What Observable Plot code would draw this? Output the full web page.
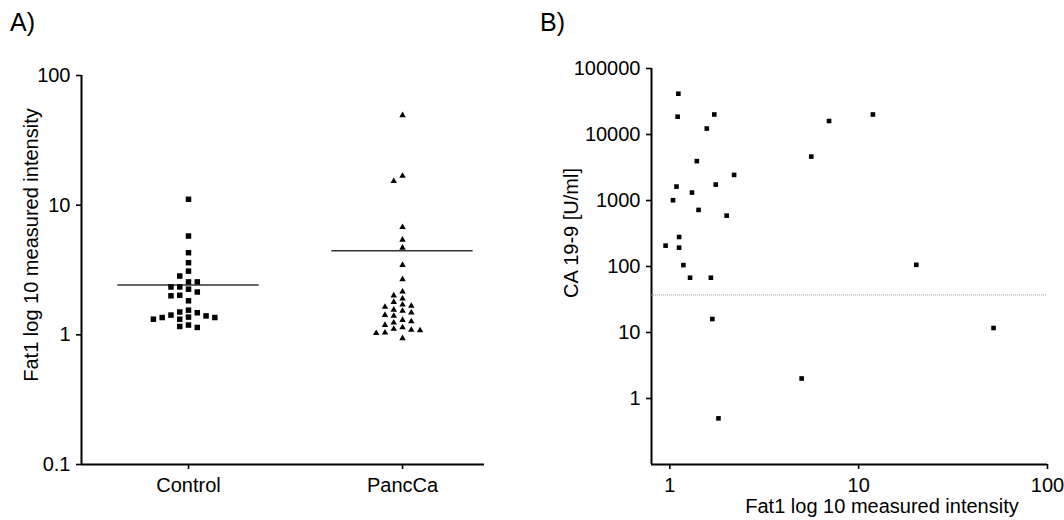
<!DOCTYPE html>
<html><head><meta charset="utf-8">
<script src="https://cdn.jsdelivr.net/npm/d3@7"></script>
<script src="https://cdn.jsdelivr.net/npm/@observablehq/plot@0.6"></script>
<style>
body{margin:0;background:#fff;font-family:Arial,"Liberation Sans",sans-serif;}
#wrap{position:relative;width:1064px;height:520px;overflow:hidden;background:#fff;}
.lab{position:absolute;font-size:20px;color:#000;white-space:nowrap;line-height:1;}
.panel{position:absolute;top:0;}
.rot{transform:translate(-50%,-50%) rotate(-90deg);}
</style></head><body>
<div id="wrap">
  <div id="pa" class="panel" style="left:0"></div>
  <div id="pb" class="panel" style="left:532px"></div>
  <div class="lab" style="left:10px;top:10px;font-size:25px">A)</div>
  <div class="lab" style="left:540px;top:10px;font-size:25px">B)</div>
  <div class="lab rot" style="left:31px;top:245px">Fat1 log 10 measured intensity</div>
  <div class="lab rot" style="left:571px;top:233px">CA 19-9 [U/ml]</div>
  <div class="lab" style="left:882px;top:496px;transform:translateX(-50%)">Fat1 log 10 measured intensity</div>
</div>
<script>
// ---- Panel A data ----
const groups = ["Control", "PancCa"];
const controlValues = [11.1, 5.78, 4.3, 3.6, 3.1, 2.84, 2.56, 2.56, 2.34, 2.34, 2.25, 2.02, 2.0, 2.14,
  1.83, 1.55, 1.48, 1.40, 1.32, 1.36, 1.36, 1.37, 1.42, 1.32, 1.50, 1.19, 1.14, 1.16];
const panccaValues = [49.3, 16.8, 15.3, 6.77, 5.41, 4.69, 3.45, 2.68, 2.15, 1.90, 2.01, 1.79, 1.67, 1.56,
  1.53, 1.64, 1.71, 1.42, 1.40, 1.48, 1.30, 1.24, 1.19, 1.27, 1.09, 1.14, 1.04, 1.11, 1.03, 1.08, 0.94];
const groupMeans = [2.42, 4.45];
const yTicksA = [0.1, 1, 10, 100];

// ---- Panel B data ----
const fat1Values = [1.11, 1.10, 1.72, 1.57, 6.97, 5.61, 1.39, 2.19, 1.085, 1.75, 1.31, 1.04, 1.42, 2.0,
  1.12, 0.95, 1.12, 1.18, 1.28, 1.65, 1.68, 4.99, 1.81, 11.9, 20.2, 51.8];
const ca199Values = [41500, 18600, 20100, 12300, 16000, 4630, 3950, 2440, 1625, 1743, 1318, 1010, 720, 590,
  280, 207, 193, 105, 67.6, 67.6, 16, 2.01, 0.5, 20100, 106, 11.7];
const ca199Cutoff = 37;
const xTicksB = [1, 10, 100];
const yTicksB = [1, 10, 100, 1000, 10000, 100000];

// column-scatter layout (GraphPad-like): points in discrete columns around the group centre
function columnScatter(values, gi, step, minSep) {
  const order = d3.range(values.length).sort((a, b) => values[b] - values[a]);
  const placed = [];
  const out = [];
  for (const i of order) {
    const lv = Math.log10(values[i]);
    let slot = 0;
    for (let k = 0; ; k++) {
      slot = k === 0 ? 0 : (k % 2 ? -Math.ceil(k / 2) : Math.ceil(k / 2));
      if (!placed.some(p => p.slot === slot && Math.abs(p.lv - lv) < minSep)) break;
    }
    placed.push({lv, slot});
    out.push({g: groups[gi], v: values[i], x: gi + slot * step});
  }
  return out;
}
const ctrlPts = columnScatter(controlValues, 0, 0.041, 0.052);
const pancPts = columnScatter(panccaValues, 1, 0.041, 0.045);

const fmt = d => String(d);
const font = "Arial, 'Liberation Sans', sans-serif";

const plotA = Plot.plot({
  width: 540, height: 520,
  marginLeft: 81, marginRight: 56, marginTop: 75, marginBottom: 56,
  style: {fontFamily: font, fontSize: "20px", color: "#000", background: "transparent", overflow: "visible"},
  x: {type: "linear", domain: [-0.5, 1.383]},
  y: {type: "log", domain: [0.1, 100]},
  marks: [
    Plot.axisY({ticks: yTicksA, tickFormat: fmt, tickSize: 5, tickPadding: 6, strokeWidth: 1.6, label: null, fontSize: 20}),
    Plot.axisX({ticks: [0, 1], tickFormat: i => groups[i], tickSize: 5, tickPadding: 8, strokeWidth: 1.6, label: null, fontSize: 20}),
    Plot.ruleX([-0.5], {stroke: "#000", strokeWidth: 2}),
    Plot.ruleY([0.1], {stroke: "#000", strokeWidth: 2}),
    Plot.ruleY(groupMeans, {y: d => d, x1: (d, i) => i - 0.33, x2: (d, i) => i + 0.33, stroke: "#333", strokeWidth: 1.6}),
    Plot.dot(ctrlPts, {x: "x", y: "v", symbol: "square", r: 3.1, fill: "#000", stroke: "none"}),
    Plot.dot(pancPts, {x: "x", y: "v", symbol: "triangle", r: 2.4, fill: "#000", stroke: "none"})
  ]
});
document.getElementById("pa").append(plotA);

const ptsB = fat1Values.map((f, i) => ({f, c: ca199Values[i]}));
const plotB = Plot.plot({
  width: 532, height: 520,
  marginLeft: 119, marginRight: 17, marginTop: 68, marginBottom: 56,
  style: {fontFamily: font, fontSize: "20px", color: "#000", background: "transparent", overflow: "visible"},
  x: {type: "log", domain: [0.8, 100]},
  y: {type: "log", domain: [0.1, 100000]},
  marks: [
    Plot.axisY({ticks: yTicksB, tickFormat: fmt, tickSize: 5, tickPadding: 6, strokeWidth: 1.6, label: null, fontSize: 20}),
    Plot.axisX({ticks: xTicksB, tickFormat: fmt, tickSize: 5, tickPadding: 8, strokeWidth: 1.6, label: null, fontSize: 20}),
    Plot.ruleX([0.8], {stroke: "#000", strokeWidth: 2}),
    Plot.ruleY([0.1], {stroke: "#000", strokeWidth: 2}),
    Plot.ruleY([ca199Cutoff], {stroke: "#9a9a9a", strokeWidth: 1, strokeDasharray: "1,1"}),
    Plot.dot(ptsB, {x: "f", y: "c", symbol: "square", r: 2.6, fill: "#000", stroke: "none"})
  ]
});
document.getElementById("pb").append(plotB);
</script>
</body></html>
